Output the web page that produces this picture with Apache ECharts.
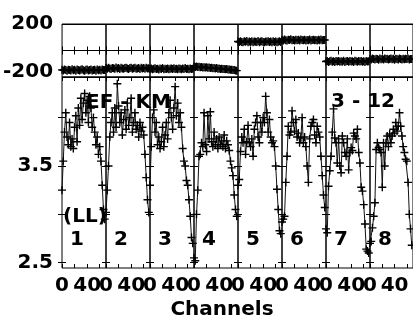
<!DOCTYPE html>
<html><head><meta charset="utf-8">
<script src="https://cdn.jsdelivr.net/npm/echarts@6/dist/echarts.min.js"></script>
<style>html,body{margin:0;padding:0;background:#fff}#c{width:413px;height:326px}</style>
</head><body><div id="c"></div>
<script>
// ---- data ----
const channels = [0,2,4,6,8,10,12,14,16,18,20,22,24,26,28,30,32,34,36,38,40,42,44,46,48,50,52,54,56,58,60,62,64,66,68];

const rhoP1 = [3.25,3.55,3.85,4.05,3.80,3.72,3.95,3.70,3.78,3.68,3.90,4.02,3.75,4.10,3.92,4.20,3.98,4.15,4.25,4.05,4.18,3.95,4.22,4.10,3.90,4.00,3.85,3.72,3.80,3.62,3.70,3.55,3.30,3.05,2.95];
const rhoP2 = [3.02,3.25,3.50,3.80,3.95,4.05,3.85,4.10,3.90,4.35,4.12,3.95,4.05,3.82,3.98,4.08,3.88,4.15,3.92,4.00,4.20,3.85,3.95,4.05,3.88,3.92,3.80,3.95,3.86,3.90,3.82,3.62,3.38,3.15,3.02];
const rhoP3 = [3.30,3.70,4.00,4.08,3.85,3.95,3.72,3.80,3.68,3.75,3.90,3.70,3.82,3.95,3.78,4.05,4.18,4.00,3.88,4.10,4.32,4.02,4.15,3.95,4.05,3.90,3.68,3.55,3.50,3.35,3.30,3.15,2.98,2.76,2.70];
const rhoP4 = [2.55,2.52,3.00,3.25,3.60,3.62,3.74,3.70,4.05,3.72,3.65,4.02,3.78,4.06,3.75,3.70,3.85,3.72,3.78,3.68,3.80,3.72,3.76,3.70,3.82,3.68,3.76,3.72,3.66,3.55,3.48,3.40,3.20,3.05,2.98];
const rhoP5 = [3.30,3.36,3.65,3.80,3.74,3.88,3.62,3.75,3.92,3.74,3.70,3.78,3.60,3.88,3.95,4.02,3.80,3.74,3.95,3.85,4.00,3.95,4.22,4.05,3.85,3.98,3.80,3.74,3.76,3.70,3.50,3.26,3.05,2.83,2.80];
const rhoP6 = [2.92,2.95,2.98,3.33,3.60,3.91,3.82,3.85,4.07,3.95,3.86,3.98,3.80,3.84,3.74,3.79,4.00,3.74,3.80,3.70,3.50,3.33,3.78,3.91,3.95,3.98,3.82,3.74,3.91,3.85,3.80,3.60,3.40,3.20,3.07];
const rhoP7 = [2.85,2.81,3.29,3.45,3.60,3.85,4.09,3.79,3.74,3.53,3.78,3.50,3.43,3.81,3.74,3.64,3.60,3.78,3.46,3.64,3.69,3.66,3.84,3.81,3.78,3.88,3.64,3.53,3.28,3.24,3.10,2.90,2.64,2.62,2.60];
const rhoP8 = [2.70,2.72,2.86,2.98,3.12,3.67,3.74,3.69,3.67,3.64,3.28,3.74,3.50,3.74,3.81,3.70,3.83,3.74,3.81,3.88,3.84,3.95,3.86,3.91,4.05,3.91,3.81,3.70,3.64,3.57,3.55,3.33,3.00,2.85,2.68];

const phiP1 = [-146,-150,-143,-148,-152,-145,-147,-151,-141,-149,-146,-152,-144,-148,-150,-145,-142,-149,-153,-146,-144,-150,-147,-143,-151,-148,-145,-152,-144,-149,-146,-150,-144,-148,-147];
const phiP2 = [-133,-137,-130,-135,-139,-132,-134,-138,-129,-136,-133,-139,-131,-135,-137,-132,-130,-136,-140,-133,-131,-137,-134,-130,-138,-135,-132,-139,-131,-136,-133,-137,-131,-135,-134];
const phiP3 = [-139,-135,-141,-137,-134,-140,-138,-143,-136,-139,-133,-141,-137,-140,-135,-142,-138,-136,-140,-134,-139,-137,-142,-135,-138,-141,-136,-139,-133,-140,-137,-141,-136,-139,-138];
const phiP4 = [-120,-124,-121,-125,-123,-127,-124,-128,-126,-129,-127,-131,-129,-132,-130,-134,-132,-135,-133,-137,-135,-139,-137,-140,-139,-142,-140,-144,-143,-146,-145,-148,-147,-151,-152];
const phiP5 = [68,64,70,65,62,69,66,71,63,67,65,70,62,68,66,64,71,63,67,69,65,62,68,66,70,64,67,63,69,65,68,62,66,70,65];
const phiP6 = [80,76,83,78,75,81,79,84,77,80,76,82,78,81,75,83,79,77,81,76,80,78,83,75,79,82,77,80,76,81,78,83,77,80,79];
const phiP7 = [-83,-79,-86,-81,-78,-84,-82,-87,-80,-83,-79,-85,-81,-84,-78,-86,-82,-80,-84,-79,-83,-81,-86,-78,-82,-85,-80,-83,-79,-84,-81,-86,-80,-83,-82];
const phiP8 = [-63,-67,-61,-65,-68,-62,-64,-69,-60,-66,-63,-67,-61,-65,-62,-68,-64,-60,-66,-63,-69,-62,-65,-67,-61,-64,-68,-62,-66,-63,-65,-60,-67,-64,-65];

const panelNames = ['1','2','3','4','5','6','7','8'];
const xTickLabels = [0, 40];
const xTicks = [0, 20, 40, 60];
const rhoTickLabels = [2.5, 3.5];
const rhoTicks = [2.5, 3, 3.5, 4];
const phiTickLabels = [-200, 200];
const axisTitle = 'Channels';
const groupLeft = 'EF - KM';
const groupRight = '3 - 12';
const modeLabel = '(LL)';

// ---- layout / chart ----
const rhoSets = [rhoP1,rhoP2,rhoP3,rhoP4,rhoP5,rhoP6,rhoP7,rhoP8];
const phiSets = [phiP1,phiP2,phiP3,phiP4,phiP5,phiP6,phiP7,phiP8];
const FONT = 'DejaVu Sans';
const L0 = 62, PW = 44;
const TOP_T = 24, TOP_H = 53, BOT_T = 77, BOT_H = 191;
const CROSS = 'path://M0,3.3H8V4.7H0Z M3.3,0H4.7V8H3.3Z';

const grids = [], xAxes = [], yAxes = [], series = [];
for (let p = 0; p < 8; p++) {
  for (let row = 0; row < 2; row++) {
    const g = grids.length;
    const isTop = row === 0;
    grids.push({left: L0 + PW * p, top: isTop ? TOP_T : BOT_T, width: PW, height: isTop ? TOP_H : BOT_H,
      show: true, borderColor: '#000', borderWidth: 1, backgroundColor: 'transparent', containLabel: false});
    const tick = {show: true, inside: true, length: 4, customValues: xTicks, lineStyle: {color: '#000', width: 1}};
    xAxes.push({type: 'value', gridIndex: g, min: 0, max: 70, position: 'bottom',
      axisLine: {show: false}, splitLine: {show: false}, axisTick: tick,
      axisLabel: isTop ? {show: false} : {show: true, customValues: xTickLabels, color: '#000',
        fontFamily: FONT, fontWeight: 'bold', fontSize: 20, margin: 8}});
    xAxes.push({type: 'value', gridIndex: g, min: 0, max: 70, position: 'top',
      axisLine: {show: false}, splitLine: {show: false}, axisTick: tick, axisLabel: {show: false}});
    if (isTop) {
      yAxes.push({type: 'value', gridIndex: g, min: -200, max: 200, interval: 200, position: 'left',
        axisLine: {show: false}, axisTick: {show: false},
        splitLine: {show: true, lineStyle: {color: '#000', width: 1}},
        axisLabel: p === 0 ? {show: true, customValues: phiTickLabels, color: '#000', fontFamily: FONT,
          fontWeight: 'bold', fontSize: 20, margin: 9,
          formatter: v => v < 0 ? '{b|' + v + '}' : '{t|' + v + '}',
          rich: {b: {fontFamily: FONT, fontWeight: 'bold', fontSize: 20, color: '#000', padding: [0,0,10,0]},
                 t: {fontFamily: FONT, fontWeight: 'bold', fontSize: 20, color: '#000'}}} : {show: false}});
      yAxes.push({type: 'value', gridIndex: g, min: -200, max: 200, interval: 200, position: 'right',
        axisLine: {show: false}, axisTick: {show: false}, splitLine: {show: false}, axisLabel: {show: false}});
    } else {
      const ytick = {show: true, inside: true, length: 4, customValues: rhoTicks, lineStyle: {color: '#000', width: 1}};
      yAxes.push({type: 'value', gridIndex: g, min: 2.445, max: 4.42, position: 'left',
        axisLine: {show: false}, axisTick: ytick, splitLine: {show: false},
        axisLabel: p === 0 ? {show: true, customValues: rhoTickLabels, color: '#000', fontFamily: FONT,
          fontWeight: 'bold', fontSize: 20, margin: 9, formatter: v => v.toFixed(1)} : {show: false}});
      yAxes.push({type: 'value', gridIndex: g, min: 2.445, max: 4.42, position: 'right',
        axisLine: {show: false}, axisTick: ytick, splitLine: {show: false}, axisLabel: {show: false}});
    }
    const vals = isTop ? phiSets[p] : rhoSets[p];
    series.push({type: 'line', xAxisIndex: 2 * g, yAxisIndex: 2 * g,
      data: channels.map((c, i) => [c, vals[i]]),
      symbol: CROSS, symbolSize: 8, showSymbol: true, showAllSymbol: true,
      lineStyle: {color: '#111', width: 1}, itemStyle: {color: '#000'},
      emphasis: {disabled: true}, silent: true, animation: false, clip: true, z: 3});
  }
}

const txtStyle = (text, x, y, align) => ({type: 'text', z: 100, silent: true,
  style: {text: text, x: x, y: y, font: 'bold 20px "DejaVu Sans"', fill: '#000',
    textAlign: align || 'center', textVerticalAlign: 'middle', align: align || 'center', verticalAlign: 'middle'}});

const graphics = [
  txtStyle(groupLeft, 128.5, 102.5),
  txtStyle(groupRight, 363, 101.5),
  txtStyle(modeLabel, 85, 217),
  txtStyle(axisTitle, 222, 310)
];
panelNames.forEach((n, p) => graphics.push(txtStyle(n, L0 + PW * p + 15, 240)));

const chart = echarts.init(document.getElementById('c'), null, {renderer: 'canvas'});
chart.setOption({
  backgroundColor: '#fff',
  animation: false,
  grid: grids, xAxis: xAxes, yAxis: yAxes, series: series,
  graphic: graphics
});
</script></body></html>
